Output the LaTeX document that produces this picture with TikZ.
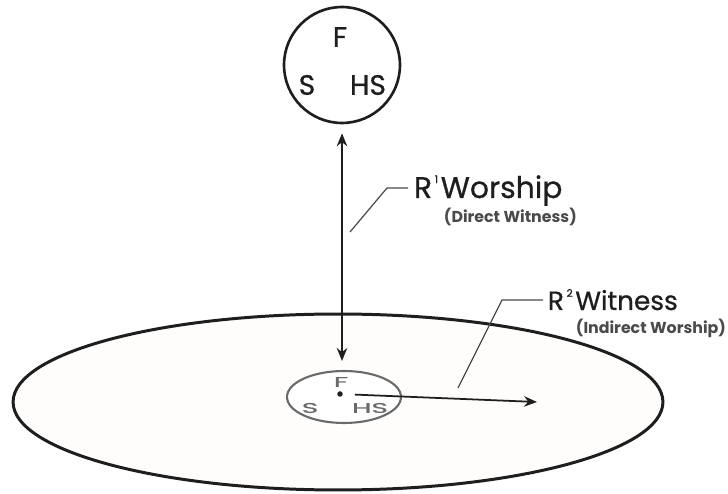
\documentclass[tikz,border=0pt]{standalone}
\usepackage{fontspec}
\setmainfont{Poppins}
\newfontfamily\midfont{Poppins}[FakeBold=0.7]
\usetikzlibrary{arrows.meta, shapes.geometric, calc}
\definecolor{cink}{HTML}{1E1E1E}
\definecolor{cgrey}{HTML}{6A6A6A}
\definecolor{cline}{HTML}{4A4A4A}
\definecolor{cfield}{HTML}{FFFDFB}
\newcommand{\rsup}[1]{\kern1.5pt\raisebox{0.5em}{\fontsize{6}{6}\selectfont #1}\kern1.5pt}
\newcommand{\squash}[1]{\scalebox{1}[0.5]{#1}}
\tikzset{
  every picture/.style={line width=1.1pt},
  ring/.style={circle, draw=cink, line width=1.5pt, minimum size=2.32cm, inner sep=0pt},
  field/.style={ellipse, draw=cink, fill=cfield, line width=1.7pt, minimum width=13cm, minimum height=3.52cm, inner sep=0pt},
  core/.style={ellipse, draw=cgrey, fill=white, line width=1.2pt, minimum width=2.28cm, minimum height=1.04cm, inner sep=0pt},
  arrow/.style={-{Stealth[length=2.6mm, width=2.1mm]}, draw=cink, line width=1pt},
  twoway/.style={{Stealth[length=2.6mm, width=2.1mm]}-{Stealth[length=2.6mm, width=2.1mm]}, draw=cink, line width=1pt},
  leader/.style={draw=cline, line width=0.7pt},
  big/.style={font=\midfont\fontsize{16}{16}\selectfont, text=cink, inner sep=0pt},
  sub/.style={font=\fontsize{9}{9}\selectfont\bfseries, text=cline, inner sep=0pt},
  coretext/.style={font=\midfont\fontsize{16}{16}\selectfont, text=cgrey, inner sep=0pt},
}

\begin{document}
\begin{tikzpicture}[x=0.02cm, y=0.02cm]
  \useasboundingbox (0,0) rectangle (728,494);
  % ---------- field and core
  \node[field] (field) at (338,92) {};
  \node[core] (core) at (344,97) {};
  \node[coretext] (cF) at (341,112) {\squash{F}};
  \node[coretext] (cS) at (310,86) {\squash{S}};
  \node[coretext] (cHS) at (370,86) {\squash{HS}};
  \node[circle, fill=cink, inner sep=0pt, minimum size=0.11cm] (dot) at (340,100) {};
  \coordinate (reach) at (537,92);
  \draw[arrow, shorten <=0.3cm] (dot.center) -- (reach);
  % ---------- trinity
  \node[ring] (trinity) at (342,429) {};
  \node[big] (tF) at (340,457) {F};
  \node[big] (tS) at (307,409) {S};
  \node[big] (tHS) at (368,409) {HS};
  \draw[twoway, shorten <=0.18cm, shorten >=0.18cm] (trinity.south) -- (trinity.south |- core.north);
  % ---------- labels
  \node[big, font=\midfont\fontsize{17}{17}\selectfont, anchor=base west] (worship) at (413,296) {R\rsup{1}Worship};
  \node[sub, anchor=base west] (direct) at (443,271) {(Direct Witness)};
  \coordinate (l1a) at (350,262);
  \coordinate (l1b) at (387,306);
  \draw[leader, shorten >=0.1cm] (l1a) -- (l1b) -- (l1b -| worship.west);
  \node[big, font=\midfont\fontsize{15}{15}\selectfont, anchor=base west] (witness) at (547,184) {R\rsup{2}Witness};
  \node[sub, anchor=base west] (indirect) at (575,160) {(Indirect Worship)};
  \coordinate (l2a) at (458,106);
  \coordinate (l2b) at (502,194);
  \draw[leader, shorten >=0.08cm] (l2a) -- (l2b) -- (l2b -| witness.west);
\end{tikzpicture}
\end{document}
